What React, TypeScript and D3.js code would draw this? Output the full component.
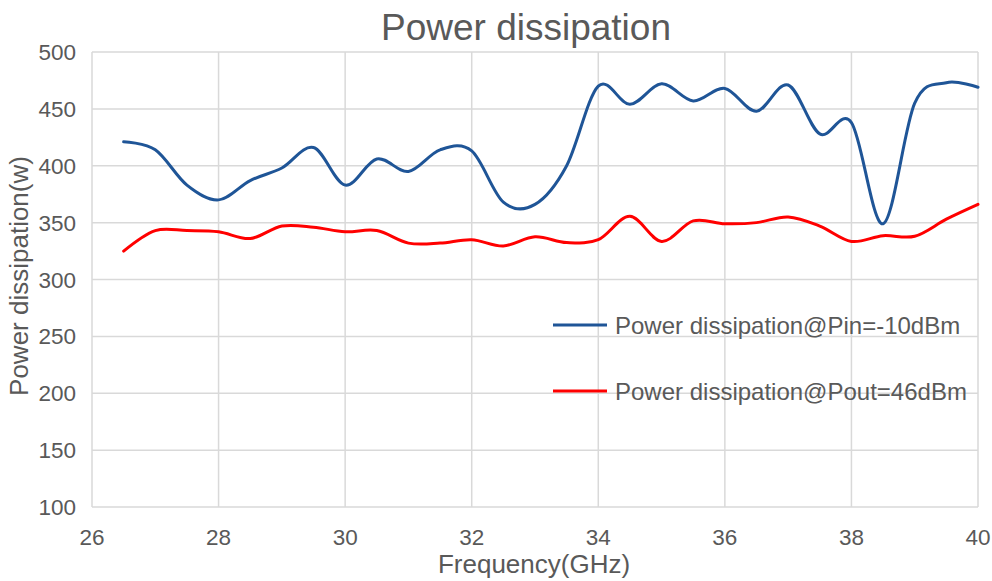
import React from "react";
import * as d3 from "d3";

const freqs = [26.5, 27, 27.5, 28, 28.5, 29, 29.5, 30, 30.5, 31, 31.5, 32, 32.5, 33, 33.5, 34, 34.5, 35, 35.5, 36, 36.5, 37, 37.5, 38, 38.5, 39, 39.5, 40];
const pinSeries = [421, 414, 383, 370, 387, 398, 416, 383, 406, 395, 414, 413, 368, 366, 400, 470, 454, 472, 457, 468, 448, 471, 428, 438, 349, 455, 473, 469];
const poutSeries = [325, 343, 343, 342, 336, 347, 346, 342, 343, 332, 332, 335, 329.5, 337.5, 332.5, 335, 355.5, 333.5, 351.5, 349, 350, 355, 347, 333.5, 338.5, 338, 353, 366];
const xTicks = [26, 28, 30, 32, 34, 36, 38, 40];
const yTicks = [100, 150, 200, 250, 300, 350, 400, 450, 500];
const seriesNames = ["Power dissipation@Pin=-10dBm", "Power dissipation@Pout=46dBm"];
const seriesColors = ["#1F5597", "#FF0000"];

export default function App() {
  const W = 992, H = 581;
  const x = d3.scaleLinear().domain([26, 40]).range([92, 978]);
  const y = d3.scaleLinear().domain([100, 500]).range([507, 52]);
  const line = d3
    .line<number>()
    .x((_, i) => x(freqs[i]))
    .y((d) => y(d))
    .curve(d3.curveCatmullRom.alpha(0));
  const font = "'Liberation Sans', Arial, sans-serif";
  const txt = "#595959";
  const series = [pinSeries, poutSeries];
  const legendY = [325, 391];
  return (
    <svg width={W} height={H} style={{ position: "absolute", left: 0, top: 0 }} fontFamily={font}>
      <rect width={W} height={H} fill="#fff" />
      {yTicks.map((t) => (
        <line key={"gy" + t} x1={x(26)} x2={x(40)} y1={y(t)} y2={y(t)} stroke="#D9D9D9" strokeWidth={1.5} />
      ))}
      {xTicks.map((t) => (
        <line key={"gx" + t} x1={x(t)} x2={x(t)} y1={y(500)} y2={y(100)} stroke="#D9D9D9" strokeWidth={1.5} />
      ))}
      {yTicks.map((t) => (
        <text key={"ty" + t} x={76} y={y(t)} dy="0.36em" textAnchor="end" fontSize={22.5} fill={txt}>
          {t}
        </text>
      ))}
      {xTicks.map((t) => (
        <text key={"tx" + t} x={x(t)} y={545} textAnchor="middle" fontSize={22.5} fill={txt}>
          {t}
        </text>
      ))}
      <text x={534} y={573} textAnchor="middle" fontSize={26} fill={txt}>
        Frequency(GHz)
      </text>
      <text transform="translate(28,276) rotate(-90)" textAnchor="middle" fontSize={26} fill={txt}>
        Power dissipation(w)
      </text>
      <text x={526} y={40} textAnchor="middle" fontSize={37} fill={txt}>
        Power dissipation
      </text>
      {series.map((s, i) => (
        <path key={"s" + i} d={line(s) || ""} fill="none" stroke={seriesColors[i]} strokeWidth={3} strokeLinejoin="round" strokeLinecap="round" />
      ))}
      {seriesNames.map((n, i) => (
        <g key={"l" + i}>
          <line x1={553} x2={607} y1={legendY[i]} y2={legendY[i]} stroke={seriesColors[i]} strokeWidth={3} />
          <text x={615} y={legendY[i]} dy="0.36em" fontSize={24} fill={txt}>
            {n}
          </text>
        </g>
      ))}
    </svg>
  );
}
